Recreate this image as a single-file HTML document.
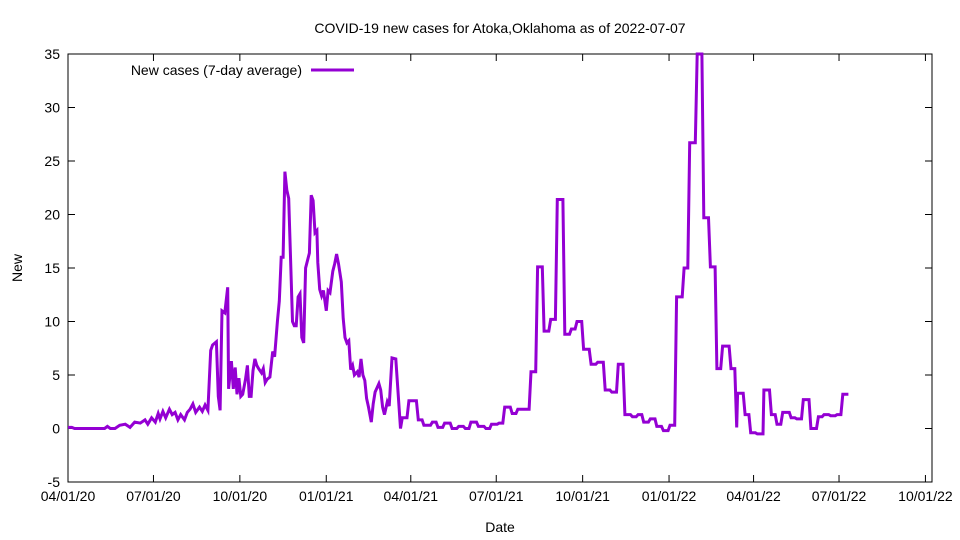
<!DOCTYPE html>
<html><head><meta charset="utf-8"><style>
body{margin:0;background:#fff}
svg{display:block;font-family:"Liberation Sans",sans-serif}
</style></head><body>
<svg id="chart" width="960" height="540" viewBox="0 0 960 540">
<text x="500" y="33" font-size="14" text-anchor="middle">COVID-19 new cases for Atoka,Oklahoma as of 2022-07-07</text>
<rect x="68" y="54" width="864" height="428" fill="none" stroke="#000" stroke-width="1"/>
<g id="axes"></g>
<text x="22" y="268" font-size="14" text-anchor="middle" transform="rotate(-90 22 268)">New</text>
<text x="500" y="532" font-size="14" text-anchor="middle">Date</text>
<g>
<text x="302" y="75" font-size="14" text-anchor="end">New cases (7-day average)</text>
<line x1="311" y1="70" x2="354" y2="70" stroke="#9400d3" stroke-width="3"/>
</g>
<path id="series" fill="none" stroke="#9400d3" stroke-width="3" stroke-linejoin="miter"/>
</svg>
<script>
// day offsets from 2020-04-01
const days=[0,4,7,39,42,45,50,55,61,66,71,77,82,85,89,93,96,98,101,104,108,111,114,117,120,124,127,130,133,136,140,143,146,149,152,154,158,160,162,164,167,170,171,174,176,178,180,182,184,186,189,191,193,195,197,199,201,203,206,208,210,212,215,218,220,223,225,227,229,231,233,235,239,241,243,245,247,249,251,253,257,259,261,263,265,266,268,270,272,275,277,279,282,284,286,288,291,293,295,297,299,301,303,305,308,310,312,314,316,318,320,323,325,327,329,331,333,335,337,340,342,345,349,354,356,361,363,371,373,377,379,386,388,392,394,399,401,407,409,414,416,421,423,427,429,435,437,443,445,449,451,457,459,463,465,471,473,477,479,491,493,498,500,505,507,512,514,519,521,527,529,534,536,540,542,547,549,555,557,562,564,570,572,577,579,584,586,591,593,599,601,605,607,611,613,618,620,625,627,632,634,639,641,646,648,654,656,660,662,668,670,675,677,682,684,689,691,695,697,704,706,710,712,713,719,721,725,727,732,734,740,741,747,749,753,755,759,761,768,770,774,776,781,783,789,791,797,799,803,805,810,812,817,819,823,825,831];
const values=[0.1,0.1,0,0,0.2,0,0,0.3,0.4,0.1,0.6,0.5,0.8,0.4,1.0,0.6,1.4,0.9,1.6,1.0,1.8,1.3,1.5,0.8,1.3,0.8,1.5,1.8,2.3,1.5,2.0,1.6,2.2,1.7,7.3,7.8,8.1,3.0,1.7,11.0,10.8,13.2,3.7,6.3,3.7,5.7,3.2,4.7,3.0,3.2,4.6,5.9,3.0,3.0,5.4,6.5,5.9,5.6,5.2,5.6,4.3,4.6,4.8,7.2,6.7,10.0,11.9,16.0,16.0,24.0,22.3,21.5,10.0,9.6,9.6,12.3,12.6,8.5,8.0,15.0,16.4,21.8,21.3,18.3,18.5,15.5,13.0,12.4,12.9,11.0,12.9,12.7,14.7,15.4,16.3,15.4,13.7,10.3,8.5,8.0,8.2,5.5,5.9,5.0,5.3,4.8,6.5,5.0,4.5,2.8,2.0,0.6,2.3,3.4,3.8,4.2,3.6,2.0,1.3,2.5,2.1,6.6,6.5,0,1,1,2.6,2.6,0.8,0.8,0.3,0.3,0.6,0.6,0.1,0.1,0.5,0.5,0,0,0.2,0.2,0,0,0.6,0.6,0.2,0.2,0,0,0.4,0.4,0.5,0.5,2.0,2.0,1.4,1.4,1.8,1.8,5.3,5.3,15.1,15.1,9.1,9.1,10.2,10.2,21.4,21.4,8.8,8.8,9.3,9.3,10.0,10.0,7.4,7.4,6.0,6.0,6.2,6.2,3.6,3.6,3.4,3.4,6.0,6.0,1.3,1.3,1.1,1.1,1.3,1.3,0.6,0.6,0.9,0.9,0.2,0.2,-0.2,-0.2,0.3,0.3,12.3,12.3,15.0,15.0,26.7,26.7,35,35,19.7,19.7,15.1,15.1,5.6,5.6,7.7,7.7,5.6,5.6,0.1,3.3,3.3,1.3,1.3,-0.4,-0.4,-0.5,-0.5,3.6,3.6,1.3,1.3,0.4,0.4,1.5,1.5,1.0,1.0,0.9,0.9,2.7,2.7,0,0,1.1,1.1,1.3,1.3,1.2,1.2,1.3,1.3,3.2,3.2];
const yTicks=[-5,0,5,10,15,20,25,30,35];
const xTickDays=[0,91,183,275,365,456,548,640,730,821,913];
const xTickLabels=["04/01/20","07/01/20","10/01/20","01/01/21","04/01/21","07/01/21","10/01/21","01/01/22","04/01/22","07/01/22","10/01/22"];

const L=68,R=932,T=54,B=482,D0=0,D1=920,Y0=-5,Y1=35;
const xs=d=>L+(d-D0)/(D1-D0)*(R-L);
const ys=v=>B-(v-Y0)/(Y1-Y0)*(B-T);
const NS="http://www.w3.org/2000/svg";
const ax=document.getElementById('axes');
function mk(tag,attrs){const e=document.createElementNS(NS,tag);for(const k in attrs)e.setAttribute(k,attrs[k]);return e;}
yTicks.forEach(v=>{
  const y=ys(v);
  const t1=mk('line',{x1:L,x2:L+7,y1:y,y2:y,stroke:'#000'});
  
  
  ax.appendChild(t1);
  const t2=mk('line',{x1:R-7,x2:R,y1:y,y2:y,stroke:'#000'});
  
  
  ax.appendChild(t2);
  const tx=mk('text',{x:L-8,y:y+5,'font-size':14,'text-anchor':'end'});
  tx.textContent=v;
  
  
  ax.appendChild(tx);
});
xTickDays.forEach((d,i)=>{
  const x=xs(d);
  const t1=mk('line',{x1:x,x2:x,y1:B,y2:B-7,stroke:'#000'});
  
  
  ax.appendChild(t1);
  const t2=mk('line',{x1:x,x2:x,y1:T,y2:T+7,stroke:'#000'});
  
  
  ax.appendChild(t2);
  const tx=mk('text',{x:x,y:B+19,'font-size':14,'text-anchor':'middle'});
  tx.textContent=xTickLabels[i];
  
  
  ax.appendChild(tx);
});
let d='';
days.forEach((dy,i)=>{d+=(i?'L':'M')+xs(dy).toFixed(1)+' '+ys(values[i]).toFixed(1);});
document.getElementById('series').setAttribute('d',d);
</script>
</body></html>
